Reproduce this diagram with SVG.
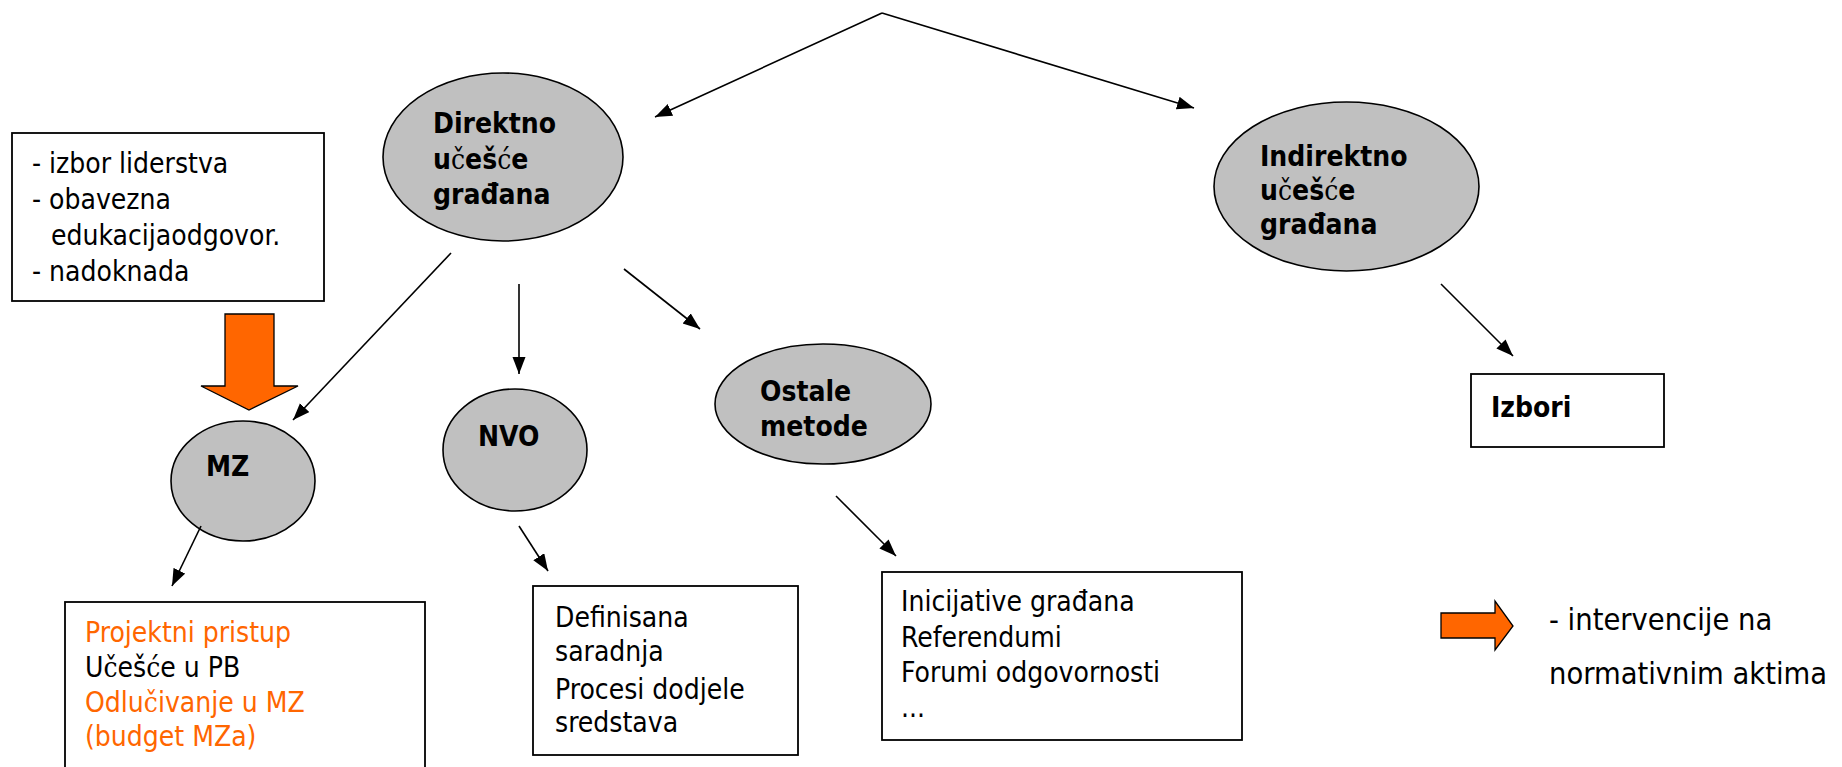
<svg xmlns="http://www.w3.org/2000/svg" width="1842" height="767" viewBox="0 0 1842 767">
<style>
  text { font-family: "DejaVu Sans Condensed", "DejaVu Sans", Verdana, sans-serif; font-stretch: condensed; font-size: 28px; fill: #000; }
  .b { font-weight: bold; }
  .alt { font-family: "DejaVu Serif Condensed", "DejaVu Serif", serif; font-weight: normal; }
  .or { fill: #FF6600; }
  .ell { fill: #C0C0C0; stroke: #000; stroke-width: 1.6; }
  .box { fill: #FFF; stroke: #000; stroke-width: 1.8; }
  .blk { fill: #FF6600; stroke: #000; stroke-width: 1.3; }
  .con { stroke: #000; stroke-width: 1.6; fill: none; }
  .leg { font-size: 30.5px; }
</style>
<defs>
  <marker id="ah" markerUnits="userSpaceOnUse" markerWidth="18" markerHeight="14" refX="17" refY="6.5" orient="auto">
    <path d="M0,0 L17,6.5 L0,13 z" fill="#000"/>
  </marker>
</defs>
<rect width="1842" height="767" fill="#FFF"/>

<g id="node-direktno">
  <ellipse class="ell" cx="503" cy="157" rx="120" ry="84"/>
  <text class="b" x="433" y="133">Direktno</text>
  <text class="b" x="433" y="169">u<tspan class="alt">č</tspan>eš<tspan class="alt">ć</tspan>e</text>
  <text class="b" x="433" y="204">građana</text>
</g>

<g id="node-indirektno">
  <ellipse class="ell" cx="1346.5" cy="186.5" rx="132.5" ry="84.5"/>
  <text class="b" x="1260" y="166">Indirektno</text>
  <text class="b" x="1260" y="200">u<tspan class="alt">č</tspan>eš<tspan class="alt">ć</tspan>e</text>
  <text class="b" x="1260" y="234">građana</text>
</g>

<g id="node-obaveze">
  <rect class="box" x="12" y="133" width="312" height="168"/>
  <text x="32" y="173">- izbor liderstva</text>
  <text x="32" y="209">- obavezna</text>
  <text x="51" y="245">edukacijaodgovor.</text>
  <text x="32" y="281">- nadoknada</text>
</g>

<g id="node-intervencija">
  <polygon class="blk" points="225,314 274,314 274,386 298,386 249,410 201,386 225,386"/>
</g>

<g id="node-mz">
  <ellipse class="ell" cx="243" cy="481" rx="72" ry="60"/>
  <text class="b" x="206" y="476">MZ</text>
</g>

<g id="node-nvo">
  <ellipse class="ell" cx="515" cy="450" rx="72" ry="61"/>
  <text class="b" x="478" y="446">NVO</text>
</g>

<g id="node-ostale">
  <ellipse class="ell" cx="823" cy="404" rx="108" ry="60"/>
  <text class="b" x="760" y="401">Ostale</text>
  <text class="b" x="760" y="436">metode</text>
</g>

<g id="node-izbori">
  <rect class="box" x="1471" y="374" width="193" height="73"/>
  <text class="b" x="1491" y="417">Izbori</text>
</g>

<g id="node-mz-box">
  <rect class="box" x="65" y="602" width="360" height="200"/>
  <text class="or" x="85" y="642">Projektni pristup</text>
  <text x="85" y="677">U<tspan class="alt">č</tspan>eš<tspan class="alt">ć</tspan>e u PB</text>
  <text class="or" x="85" y="712">Odlu<tspan class="alt">č</tspan>ivanje u MZ</text>
  <text class="or" x="85" y="746">(budget MZa)</text>
</g>

<g id="node-nvo-box">
  <rect class="box" x="533" y="586" width="265" height="169"/>
  <text x="555" y="627">Definisana</text>
  <text x="555" y="661">saradnja</text>
  <text x="555" y="699">Procesi dodjele</text>
  <text x="555" y="732">sredstava</text>
</g>

<g id="node-ostale-box">
  <rect class="box" x="882" y="572" width="360" height="168"/>
  <text x="901" y="611">Inicijative građana</text>
  <text x="901" y="647">Referendumi</text>
  <text x="901" y="682">Forumi odgovornosti</text>
  <text x="901" y="717">...</text>
</g>

<g id="legend">
  <polygon class="blk" points="1441,613 1495,613 1495,601 1513,626 1495,650 1495,638 1441,638"/>
  <text class="leg" x="1549" y="630">- intervencije na</text>
  <text class="leg" x="1549" y="684">normativnim aktima</text>
</g>

<g id="connectors">
  <line class="con" x1="882" y1="13" x2="655" y2="117" marker-end="url(#ah)"/>
  <line class="con" x1="882" y1="13" x2="1194" y2="108" marker-end="url(#ah)"/>
  <line class="con" x1="451" y1="253" x2="293" y2="420" marker-end="url(#ah)"/>
  <line class="con" x1="519" y1="284" x2="519" y2="374" marker-end="url(#ah)"/>
  <line class="con" x1="624" y1="269" x2="700" y2="329" marker-end="url(#ah)"/>
  <line class="con" x1="201" y1="526" x2="172" y2="586" marker-end="url(#ah)"/>
  <line class="con" x1="519" y1="526" x2="548" y2="571" marker-end="url(#ah)"/>
  <line class="con" x1="836" y1="496" x2="896" y2="556" marker-end="url(#ah)"/>
  <line class="con" x1="1441" y1="284" x2="1513" y2="356" marker-end="url(#ah)"/>
</g>
</svg>
